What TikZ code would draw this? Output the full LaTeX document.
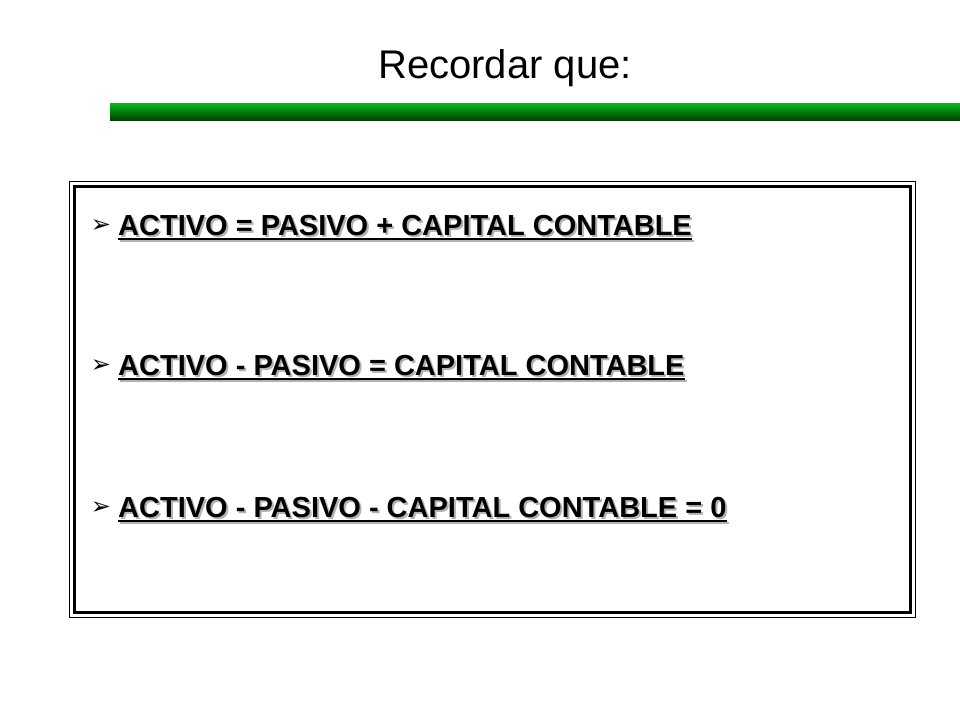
\documentclass[tikz,border=0pt]{standalone}
\usepackage{fontspec}
\setmainfont{Liberation Sans}
\newfontfamily\djvfont{DejaVu Sans}
\begin{document}
\begin{tikzpicture}[x=1pt,y=-1pt,
  eq/.style={anchor=west,inner sep=0pt,font=\fontsize{29}{32}\selectfont\bfseries},
  sh/.style={eq,text=gray!60}]
\useasboundingbox (0,0) rectangle (960,720);
\node[font=\fontsize{40}{44}\selectfont] (title) at (505,68) {Recordar que:};
\shade[top color=green!70!black!90!cyan, bottom color=black!75!green] (110,103) rectangle (960,120);
\draw[line width=1pt] (69,181) rectangle (915,617);
\draw[line width=3pt] (74,186) rectangle (910,612);
\foreach \y/\t/\n in {226/{ACTIVO = PASIVO + CAPITAL CONTABLE}/a,
                      366/{ACTIVO - PASIVO = CAPITAL CONTABLE}/b,
                      508/{ACTIVO - PASIVO - CAPITAL CONTABLE = 0}/c}{
  \node[font=\djvfont\fontsize{24}{24}\selectfont] (m\n) at (101,\y) {➢};
  \node[sh] (s\n) at (120,\y+2) {\t};
  \draw[gray!60,line width=2pt] ([yshift=-3pt]s\n.base west) -- ([yshift=-3pt]s\n.base east);
  \node[eq] (t\n) at (118,\y) {\t};
  \draw[line width=2pt] ([yshift=-3pt]t\n.base west) -- ([yshift=-3pt]t\n.base east);
}
\end{tikzpicture}
\end{document}
